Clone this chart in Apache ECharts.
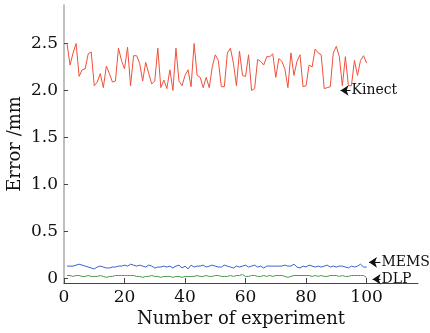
<!DOCTYPE html>
<html>
<head>
<meta charset="utf-8">
<script src="https://cdn.jsdelivr.net/npm/echarts@6/dist/echarts.min.js"></script>
<style>
  html, body { margin: 0; padding: 0; background: #fff; }
  #chart { width: 430px; height: 333px; }
</style>
</head>
<body>
<div id="chart"></div>
<script>
// experiment numbers 1..100
var experiments = [];
for (var i = 1; i <= 100; i++) experiments.push(i);

var kinect = [
  2.50, 2.27, 2.40, 2.50, 2.15, 2.22, 2.23, 2.39, 2.41, 2.05,
  2.09, 2.18, 2.03, 2.26, 2.18, 2.09, 2.10, 2.45, 2.32, 2.23,
  2.46, 2.05, 2.37, 2.37, 2.29, 2.10, 2.30, 2.18, 2.07, 2.10,
  2.45, 2.03, 2.11, 2.02, 2.22, 2.00, 2.45, 2.10, 2.05, 2.16,
  2.22, 2.04, 2.50, 2.16, 2.14, 2.03, 2.14, 2.03, 2.25, 2.38,
  2.32, 2.04, 2.04, 2.40, 2.45, 2.29, 2.05, 2.42, 2.16, 2.15,
  2.38, 2.00, 2.02, 2.33, 2.31, 2.27, 2.36, 2.36, 2.39, 2.14,
  2.34, 2.31, 2.23, 2.03, 2.40, 2.16, 2.31, 2.38, 2.04, 2.05,
  2.27, 2.25, 2.44, 2.40, 2.38, 2.02, 2.03, 2.04, 2.40, 2.47,
  2.36, 2.05, 2.36, 2.05, 2.05, 2.32, 2.16, 2.32, 2.37, 2.29
];

var mems = [
  0.13, 0.13, 0.13, 0.14, 0.15, 0.14, 0.13, 0.12, 0.11, 0.10,
  0.12, 0.13, 0.12, 0.11, 0.11, 0.12, 0.12, 0.13, 0.13, 0.14,
  0.13, 0.15, 0.14, 0.13, 0.14, 0.13, 0.12, 0.14, 0.13, 0.11,
  0.12, 0.12, 0.13, 0.12, 0.13, 0.11, 0.13, 0.14, 0.11, 0.13,
  0.10, 0.14, 0.12, 0.13, 0.13, 0.14, 0.12, 0.13, 0.14, 0.13,
  0.12, 0.12, 0.14, 0.13, 0.12, 0.11, 0.13, 0.12, 0.13, 0.14,
  0.12, 0.13, 0.14, 0.12, 0.13, 0.11, 0.13, 0.13, 0.13, 0.13,
  0.13, 0.13, 0.14, 0.13, 0.13, 0.15, 0.12, 0.11, 0.13, 0.12,
  0.14, 0.13, 0.12, 0.13, 0.12, 0.13, 0.14, 0.12, 0.13, 0.12,
  0.13, 0.13, 0.12, 0.11, 0.13, 0.12, 0.13, 0.15, 0.12, 0.12
];

var dlp = [
  0.03, 0.03, 0.02, 0.03, 0.03, 0.02, 0.02, 0.03, 0.02, 0.02,
  0.02, 0.03, 0.02, 0.01, 0.02, 0.02, 0.03, 0.03, 0.03, 0.03,
  0.03, 0.03, 0.03, 0.02, 0.02, 0.01, 0.02, 0.02, 0.03, 0.02,
  0.02, 0.01, 0.02, 0.02, 0.02, 0.01, 0.02, 0.02, 0.01, 0.02,
  0.02, 0.02, 0.02, 0.03, 0.02, 0.02, 0.03, 0.02, 0.02, 0.03,
  0.03, 0.02, 0.02, 0.02, 0.03, 0.02, 0.03, 0.03, 0.04, 0.02,
  0.02, 0.03, 0.03, 0.02, 0.02, 0.03, 0.02, 0.03, 0.02, 0.03,
  0.03, 0.03, 0.02, 0.01, 0.02, 0.03, 0.03, 0.03, 0.03, 0.03,
  0.03, 0.02, 0.03, 0.02, 0.03, 0.02, 0.02, 0.03, 0.03, 0.03,
  0.02, 0.03, 0.02, 0.02, 0.03, 0.03, 0.03, 0.03, 0.03, 0.01
];

var xTicks = [0, 20, 40, 60, 80, 100];
var yTicks = [0, 0.5, 1.0, 1.5, 2.0, 2.5];

// label name, arrow from x0 back to x1 at height y
var labels = [
  { name: "Kinect", x0: 94.7, x1: 91.4, y: 2.0 },
  { name: "MEMS", x0: 104.6, x1: 100.8, y: 0.17 },
  { name: "DLP", x0: 104.6, x1: 102.0, y: -0.01 }
];

function pairs(vals) {
  return vals.map(function (v, i) { return [experiments[i], v]; });
}

var FONT = "DejaVu Serif";

function annot(l) {
  return {
    silent: true,
    symbol: ["none", "arrow"],
    symbolSize: 8,
    lineStyle: { color: "#111", width: 1, type: "solid" },
    label: { show: false },
    data: [[{ coord: [l.x0, l.y] }, { coord: [l.x1, l.y] }]]
  };
}

function annotText(l) {
  return {
    silent: true,
    symbol: "circle",
    symbolSize: 0,
    label: {
      show: true, position: "right", distance: 1,
      formatter: l.name, color: "#111", fontFamily: FONT, fontSize: 14
    },
    data: [{ coord: [l.x0, l.y] }]
  };
}

var chart = echarts.init(document.getElementById("chart"), null, { renderer: "canvas" });

var colors = ["#f0503c", "#3a5fcd", "#4a9a4a"];
var seriesData = [kinect, mems, dlp];

var option = {
  animation: false,
  grid: { left: 64, right: 12, top: 5, bottom: 50, containLabel: false, outerBoundsMode: "none" },
  xAxis: {
    type: "value",
    min: 0,
    max: 117,
    name: "Number of experiment",
    nameLocation: "middle",
    nameGap: 27,
    nameMoveOverlap: false,
    nameTextStyle: { fontFamily: FONT, fontSize: 18, color: "#111" },
    axisLine: { show: true, onZero: false, lineStyle: { color: "#444", width: 1 } },
    axisTick: { show: true, inside: true, length: 5, customValues: xTicks, lineStyle: { color: "#444" } },
    axisLabel: { customValues: xTicks, fontFamily: FONT, fontSize: 17, color: "#111", margin: 6 },
    splitLine: { show: false }
  },
  yAxis: {
    type: "value",
    min: -0.05,
    max: 2.91,
    name: "Error /mm",
    nameLocation: "middle",
    nameGap: 40,
    nameMoveOverlap: false,
    nameTextStyle: { fontFamily: FONT, fontSize: 18, color: "#111" },
    axisLine: { show: true, onZero: false, lineStyle: { color: "#aaa", width: 1.5 } },
    axisTick: { show: true, inside: true, length: 4, customValues: yTicks, lineStyle: { color: "#444" } },
    axisLabel: {
      customValues: yTicks, fontFamily: FONT, fontSize: 17, color: "#111", margin: 6,
      formatter: function (v) { return v === 0 ? "0" : v.toFixed(1); }
    },
    splitLine: { show: false }
  },
  series: labels.map(function (l, k) {
    return {
      name: l.name,
      type: "line",
      data: pairs(seriesData[k]),
      showSymbol: false,
      symbol: "none",
      lineStyle: { color: colors[k], width: 1 },
      itemStyle: { color: colors[k] },
      markLine: annot(l),
      markPoint: annotText(l)
    };
  })
};

chart.setOption(option);
</script>
</body>
</html>
